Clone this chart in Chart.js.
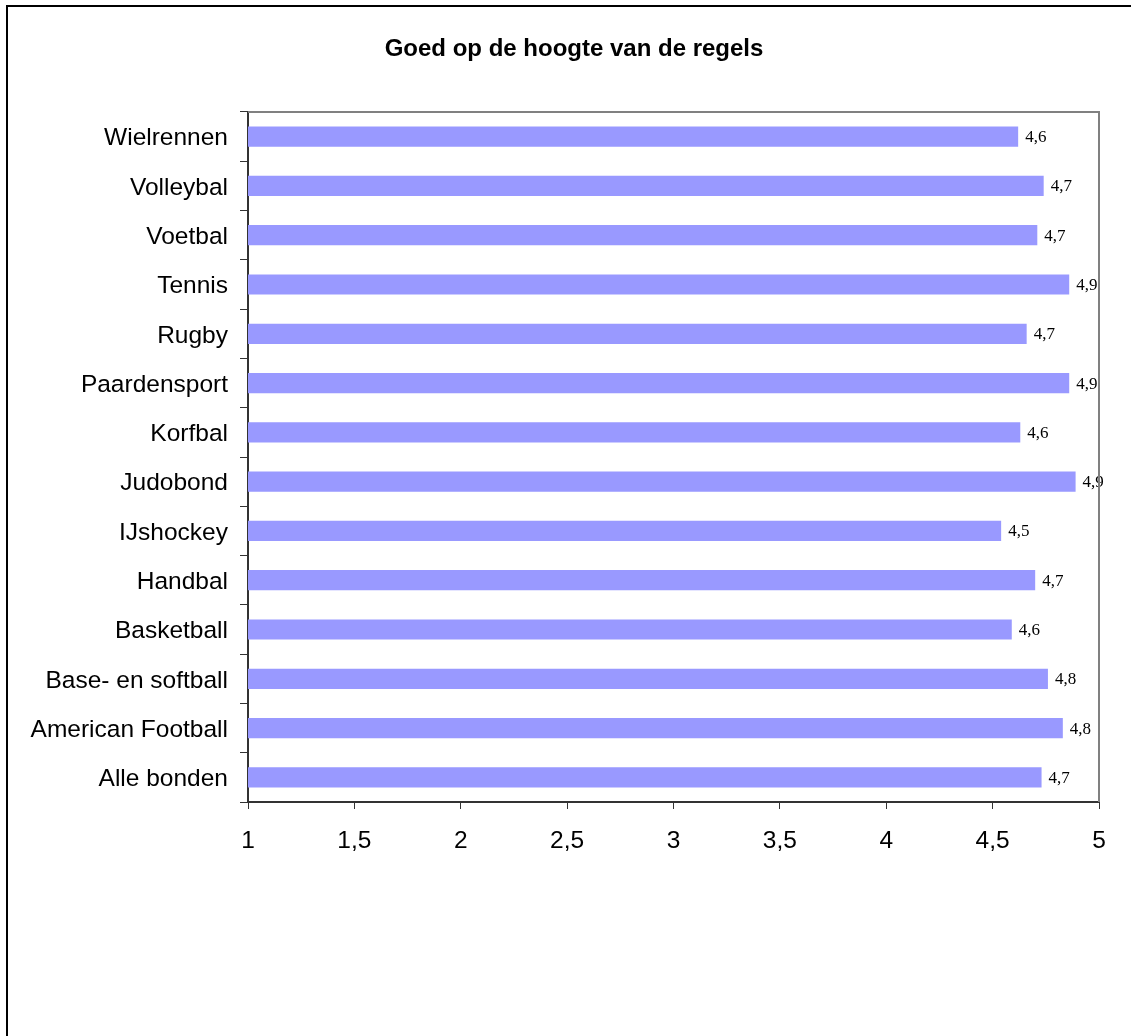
<!DOCTYPE html>
<html>
<head>
<meta charset="utf-8">
<script src="https://cdn.jsdelivr.net/npm/chart.js@4/dist/chart.umd.min.js"></script>
<style>
  html, body { margin: 0; padding: 0; background: #fff; }
  #wrap { width: 1131px; height: 1036px; position: relative; }
</style>
</head>
<body>
<div id="wrap"><canvas id="regelsChart"></canvas></div>
<script>
// categorieën en gemiddelde scores (schaal 1-5)
const bonden = [
    'Wielrennen', 'Volleybal', 'Voetbal', 'Tennis', 'Rugby', 'Paardensport', 'Korfbal',
    'Judobond', 'IJshockey', 'Handbal', 'Basketball', 'Base- en softball',
    'American Football', 'Alle bonden'
];
const scores = [4.62, 4.74, 4.71, 4.86, 4.66, 4.86, 4.63, 4.89, 4.54, 4.70, 4.59, 4.76, 4.83, 4.73];
const xTicks = [1, 1.5, 2, 2.5, 3, 3.5, 4, 4.5, 5];
const titel = 'Goed op de hoogte van de regels';

const komma = v => String(v).replace('.', ',');

// titel, buitenrand en rand rond het plotgebied
const kaderPlugin = {
    id: 'kader',
    beforeDraw(chart) {
        const ctx = chart.ctx;
        ctx.save();
        ctx.strokeStyle = '#000';
        ctx.lineWidth = 2;
        ctx.beginPath();
        ctx.moveTo(7, 1036);
        ctx.lineTo(7, 6);
        ctx.lineTo(1131, 6);
        ctx.stroke();
        ctx.restore();
    },
    afterDraw(chart) {
        const ctx = chart.ctx;
        const a = chart.chartArea;
        ctx.save();
        ctx.strokeStyle = '#808080';
        ctx.lineWidth = 2;
        ctx.beginPath();
        ctx.moveTo(a.left, a.top);
        ctx.lineTo(a.right, a.top);
        ctx.lineTo(a.right, a.bottom);
        ctx.stroke();
        ctx.fillStyle = '#000';
        ctx.font = 'bold 24px "Liberation Sans", Arial, sans-serif';
        ctx.textAlign = 'center';
        ctx.textBaseline = 'middle';
        ctx.fillText(titel, 574, 49);
        ctx.restore();
    }
};

// waardelabels rechts van de balken
const labelPlugin = {
    id: 'waardes',
    afterDatasetsDraw(chart) {
        const ctx = chart.ctx;
        const meta = chart.getDatasetMeta(0);
        ctx.save();
        ctx.fillStyle = '#000';
        ctx.font = '17px "Liberation Serif", "Times New Roman", serif';
        ctx.textAlign = 'left';
        ctx.textBaseline = 'middle';
        meta.data.forEach((bar, i) => {
            const txt = komma((Math.round(scores[i] * 10) / 10).toFixed(1));
            ctx.fillText(txt, bar.x + 7, bar.y + 1);
        });
        ctx.restore();
    }
};

const ctx = document.getElementById('regelsChart').getContext('2d');
const regelsChart = new Chart(ctx, {
    type: 'bar',
    data: {
        labels: bonden,
        datasets: [{
            data: scores,
            backgroundColor: '#9999FF',
            borderWidth: 0,
            categoryPercentage: 1,
            barPercentage: 0.41
        }]
    },
    options: {
        indexAxis: 'y',
        responsive: true,
        maintainAspectRatio: false,
        animation: false,
        layout: { padding: { left: 0, top: 112, right: 32, bottom: 0 } },
        plugins: {
            legend: { display: false },
            tooltip: { enabled: false },
            title: { display: false }
        },
        scales: {
            x: {
                min: 1,
                max: 5,
                afterBuildTicks(scale) {
                    scale.ticks = xTicks.map(v => ({ value: v }));
                },
                afterFit(scale) { scale.height = 234; },
                border: { display: true, color: '#333', width: 2 },
                grid: { display: true, drawOnChartArea: false, drawTicks: true, tickLength: 7, color: '#333', lineWidth: 1 },
                ticks: {
                    color: '#000',
                    padding: 18,
                    maxRotation: 0,
                    font: { family: '"Liberation Sans", Arial, sans-serif', size: 24.5 },
                    callback: v => komma(v)
                }
            },
            y: {
                afterFit(scale) { scale.width = 248; },
                border: { display: true, color: '#333', width: 2 },
                grid: { display: true, offset: true, drawOnChartArea: false, drawTicks: true, tickLength: 8, color: '#333', lineWidth: 1 },
                ticks: {
                    color: '#000',
                    padding: 12,
                    labelOffset: 2,
                    font: { family: '"Liberation Sans", Arial, sans-serif', size: 24.5 }
                }
            }
        }
    },
    plugins: [kaderPlugin, labelPlugin]
});
</script>
</body>
</html>
